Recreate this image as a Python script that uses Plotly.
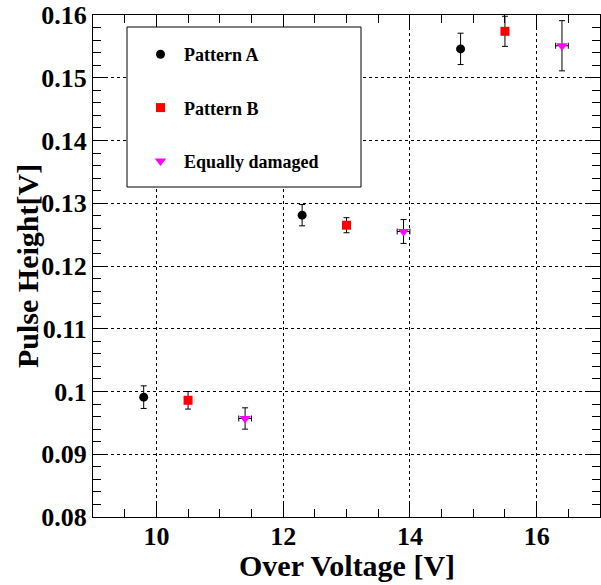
import plotly.graph_objects as go

# Data
names = ["Pattern A", "Pattern B", "Equally damaged"]
a_x = [9.8, 12.3, 14.8]
a_y = [0.0991, 0.1281, 0.1546]
a_err = [0.0018, 0.0017, 0.0025]

b_x = [10.5, 13.0, 15.5]
b_y = [0.0986, 0.1265, 0.1574]
b_err = [0.0014, 0.0012, 0.0024]

e_x = [11.4, 13.9, 16.4]
e_y = [0.0957, 0.1255, 0.1551]
e_err = [0.0017, 0.0019, 0.0040]
e_xerr = [0.1, 0.1, 0.1]

FONT = "Liberation Serif"

fig = go.Figure()

def errbar(arr):
    return dict(type="data", array=arr, color="black", thickness=1, width=3, visible=True)

fig.add_trace(go.Scatter(x=a_x, y=a_y, mode="markers", name=names[0], legendgroup="a",
                         marker=dict(symbol="circle", size=9, color="black"),
                         error_y=errbar(a_err)))
fig.add_trace(go.Scatter(x=b_x, y=b_y, mode="markers", name=names[1], legendgroup="b",
                         marker=dict(symbol="square", size=9, color="red"),
                         error_y=errbar(b_err)))
fig.add_trace(go.Scatter(x=e_x, y=e_y, mode="markers", name=names[2], legendgroup="e",
                         marker=dict(symbol="triangle-down", size=10, color="magenta"),
                         error_y=errbar(e_err), error_x=errbar(e_xerr)))

W, H = 601, 585
L, R, T, B = 93, 1, 15, 68
pw, ph = W - L - R, H - T - B

def px_x(px):
    return (px - L) / pw

def px_y(py):
    return 1 - (py - T) / ph

axis_common = dict(
    showline=True, linecolor="black", linewidth=1, mirror="ticks",
    ticks="inside", tickcolor="black", tickwidth=1, ticklen=15,
    showgrid=True, gridcolor="black", griddash="dot", gridwidth=1,
    zeroline=False,
    tickfont=dict(family=FONT, size=26, color="black", weight="bold"),
)

fig.update_layout(
    width=W, height=H,
    margin=dict(l=L, r=R, t=T, b=B, autoexpand=False),
    paper_bgcolor="white", plot_bgcolor="white",
    xaxis=dict(range=[9, 17], dtick=2, tick0=0, ticklabelstandoff=-4,
               minor=dict(dtick=0.5, ticks="inside", ticklen=8, tickcolor="black", showgrid=False),
               **axis_common),
    yaxis=dict(range=[0.08, 0.16], dtick=0.01, tick0=0,
               minor=dict(dtick=0.002, ticks="inside", ticklen=8, tickcolor="black", showgrid=False),
               **axis_common),
    showlegend=True,
    legend=dict(x=px_x(137), y=px_y(36), xanchor="left", yanchor="top",
                bgcolor="rgba(0,0,0,0)", borderwidth=0,
                font=dict(family=FONT, size=18, color="black", weight="bold"),
                tracegroupgap=27, itemsizing="trace", itemwidth=37),
    shapes=[dict(type="rect", xref="paper", yref="paper",
                 x0=px_x(127), x1=px_x(361), y0=px_y(187), y1=px_y(27),
                 line=dict(color="black", width=1), fillcolor="white", layer="above")],
    annotations=[
        dict(text="Pulse Height[V]", xref="paper", yref="paper",
             x=px_x(27), y=0.5, xanchor="center", yanchor="middle",
             textangle=-90, showarrow=False,
             font=dict(family=FONT, size=30, color="black", weight="bold")),
        dict(text="Over Voltage [V]", xref="paper", yref="paper",
             x=px_x(347), y=px_y(584), xanchor="center", yanchor="bottom",
             showarrow=False,
             font=dict(family=FONT, size=30, color="black", weight="bold")),
    ],
)

fig.write_html("out.html", config={"displayModeBar": False},
               post_script="document.body.style.margin='0px';")
